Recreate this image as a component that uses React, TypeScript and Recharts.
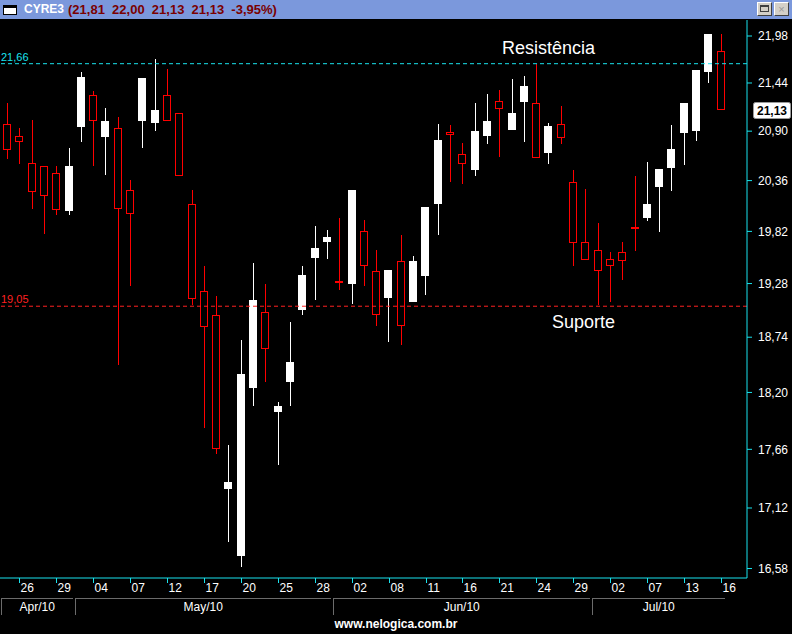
import React from "react";
import { ComposedChart, Bar, XAxis, YAxis, ReferenceLine } from "recharts";

const ticker = "CYRE3";

const dates = [
  "23/04", "26/04", "27/04", "28/04", "29/04", "30/04",
  "03/05", "04/05", "05/05", "06/05", "07/05", "10/05", "11/05", "12/05", "13/05", "14/05",
  "17/05", "18/05", "19/05", "20/05", "21/05", "24/05", "25/05", "26/05", "27/05", "28/05", "31/05",
  "01/06", "02/06", "04/06", "07/06", "08/06", "09/06", "10/06", "11/06", "14/06", "15/06",
  "16/06", "17/06", "18/06", "21/06", "22/06", "23/06", "24/06", "25/06", "28/06", "29/06", "30/06",
  "01/07", "02/07", "05/07", "06/07", "07/07", "08/07", "12/07", "13/07", "14/07", "15/07", "16/07",
];

const opens = [
  20.98, 20.85, 20.55, 20.52, 20.44, 20.03,
  20.95, 21.30, 20.84, 20.94, 20.26, 21.01, 20.99, 21.30, 21.10, 20.11,
  19.20, 18.96, 17.29, 16.69, 18.24, 18.99, 18.01, 18.30, 19.01, 19.54, 19.71,
  19.30, 19.28, 19.82, 19.41, 19.13, 19.51, 19.09, 19.36, 20.11, 20.89,
  20.65, 20.47, 20.85, 21.24, 20.91, 21.22, 21.21, 20.66, 20.98, 20.34, 19.71,
  19.63, 19.53, 19.60, 19.86, 19.96, 20.29, 20.50, 20.88, 20.90, 21.56, 21.81,
];

const highs = [
  21.21, 20.94, 21.02, 20.52, 20.52, 20.71,
  21.57, 21.35, 21.16, 21.06, 20.37, 21.50, 21.71, 21.60, 21.10, 20.26,
  19.46, 19.15, 17.70, 18.71, 19.49, 19.28, 18.11, 18.89, 19.46, 19.88, 19.83,
  19.96, 20.26, 19.94, 19.63, 19.42, 19.78, 19.56, 20.08, 20.98, 20.97,
  20.77, 21.21, 21.32, 21.36, 21.49, 21.52, 21.66, 20.99, 21.18, 20.47, 20.27,
  19.91, 19.61, 19.71, 20.41, 20.56, 20.49, 20.97, 21.21, 21.59, 22.00, 22.00,
];

const lows = [
  20.59, 20.54, 20.06, 19.79, 19.99, 19.99,
  20.78, 20.52, 20.42, 18.47, 19.26, 20.71, 20.90, 21.01, 20.41, 19.06,
  17.86, 17.62, 16.81, 16.59, 18.07, 18.30, 17.51, 18.07, 18.96, 19.11, 19.53,
  19.21, 19.07, 19.25, 18.85, 18.69, 18.66, 19.09, 19.16, 19.78, 20.35,
  20.32, 20.41, 20.76, 20.62, 20.91, 20.78, 20.60, 20.54, 20.76, 19.46, 19.52,
  19.06, 19.09, 19.32, 19.62, 19.93, 19.81, 20.25, 20.53, 20.79, 21.44, 21.13,
];

const closes = [
  20.69, 20.78, 20.24, 20.19, 20.05, 20.52,
  21.51, 21.01, 21.01, 20.06, 20.00, 21.50, 21.13, 21.01, 20.41, 19.12,
  18.84, 17.66, 17.36, 18.38, 19.11, 18.62, 18.07, 18.50, 19.37, 19.65, 19.76,
  19.30, 20.26, 19.46, 18.96, 19.42, 18.85, 19.51, 20.08, 20.80, 20.86,
  20.54, 20.90, 21.01, 21.15, 21.10, 21.41, 20.60, 20.96, 20.82, 19.70, 19.52,
  19.41, 19.46, 19.51, 19.86, 20.11, 20.49, 20.70, 21.21, 21.59, 22.00, 21.13,
];

const monthKeys = ["04", "05", "06", "07"];
const monthNames = ["Apr/10", "May/10", "Jun/10", "Jul/10"];

const yTicks = [16.58, 17.12, 17.66, 18.2, 18.74, 19.28, 19.82, 20.36, 20.9, 21.44, 21.98];
const resistance = 21.66;
const support = 19.05;

const CYAN = "#19e3ee";
const RED = "#ff0000";
const FONT = "'Liberation Sans', Arial, sans-serif";
const NARROW = "'Liberation Sans Narrow', 'Liberation Sans', Arial, sans-serif";

const W = 792;
const H = 634;
const TOP = 20;
const Y_W = 45;
const PAD_L = 1;
const PAD_R = 20;
const BAND = (W - Y_W - PAD_L - PAD_R) / dates.length;

const fmt = (v: number) => v.toFixed(2).replace(".", ",");

const data = dates.map((date, i) => ({
  date,
  up: closes[i] > opens[i],
  wick: [lows[i], highs[i]],
  body: [Math.min(opens[i], closes[i]), Math.max(opens[i], closes[i])],
}));

const last = dates.length - 1;
const change = (closes[last] / closes[last - 1] - 1) * 100;

function WickShape(props: any) {
  const { x, y, width, height, payload } = props;
  const left = Math.round(x + width / 2 - 4);
  const y1 = Math.round(y);
  const y2 = Math.round(y + height);
  return (
    <line
      x1={left + 4.5}
      x2={left + 4.5}
      y1={y1}
      y2={Math.max(y2, y1 + 1)}
      stroke={payload.up ? "#fff" : RED}
      strokeWidth={1}
    />
  );
}

function BodyShape(props: any) {
  const { x, y, width, height, payload } = props;
  const left = Math.round(x + width / 2 - 4);
  const top = Math.round(y);
  const h = Math.round(y + height) - top;
  if (h < 2) {
    return <rect x={left} y={top - 1} width={8} height={2} fill={payload.up ? "#fff" : RED} />;
  }
  if (payload.up) {
    return <rect x={left} y={top} width={8} height={h} fill="#fff" />;
  }
  return (
    <rect x={left + 0.5} y={top + 0.5} width={7} height={h - 1} fill="#000" stroke={RED} strokeWidth={1} />
  );
}

function DateTick(props: any) {
  const { x, y, index, payload } = props;
  if (index % 3 !== 1) return <g />;
  const tx = Math.round(x) + 0.5;
  return (
    <g>
      <line x1={tx} x2={tx} y1={y} y2={y + 5} stroke={CYAN} />
      <text x={tx + 1} y={y + 14} fill="#fff" fontSize={12} fontFamily={NARROW}>
        {String(payload.value).slice(0, 2)}
      </text>
    </g>
  );
}

function MonthTick(props: any) {
  const { x, y, index } = props;
  const key = dates[index].slice(3);
  if (index > 0 && dates[index - 1].slice(3) === key) return <g />;
  const count = dates.filter((d) => d.slice(3) === key).length;
  const left = Math.round(x - BAND / 2) + 0.5;
  const right = Math.round(x - BAND / 2 + count * BAND) - 2;
  const name = monthNames[monthKeys.indexOf(key)];
  return (
    <g>
      <line x1={left} x2={left} y1={y} y2={y + 17} stroke="#6b6b6b" />
      <line x1={left} x2={right} y1={y + 0.5} y2={y + 0.5} stroke="#6b6b6b" />
      <text x={(left + right) / 2} y={y + 13} fill="#fff" fontSize={12} fontFamily={NARROW} textAnchor="middle">
        {name}
      </text>
    </g>
  );
}

function levelLabel(text: string, color: string) {
  return (p: any) => (
    <text x={p.viewBox.x + 1} y={p.viewBox.y - 3} fill={color} fontSize={11} fontFamily={FONT}>
      {text}
    </text>
  );
}

function priceBox(p: any) {
  const bx = p.viewBox.x + p.viewBox.width + 6;
  const by = Math.round(p.viewBox.y) - 8;
  return (
    <g>
      <rect x={bx + 0.5} y={by + 0.5} width={37} height={16} rx={2} fill="#fff" stroke="#9a9a9a" />
      <text x={bx + 19} y={by + 13} fill="#000" fontSize={12} fontWeight="bold" fontFamily={FONT} textAnchor="middle">
        {fmt(closes[last])}
      </text>
    </g>
  );
}

const btn: React.CSSProperties = {
  position: "absolute",
  top: 2,
  width: 13,
  height: 12,
  background: "#d4d0c8",
  borderTop: "1px solid #fff",
  borderLeft: "1px solid #fff",
  borderRight: "1px solid #404040",
  borderBottom: "1px solid #404040",
};

export default function App() {
  return (
    <div style={{ position: "absolute", left: 0, top: 0, width: W, height: H, background: "#000", overflow: "hidden" }}>
      <div
        style={{
          position: "absolute",
          left: 0,
          top: 0,
          width: W,
          height: 19,
          background: "#7b98dc",
          fontFamily: FONT,
          fontWeight: "bold",
          fontSize: 13,
          lineHeight: "15px",
        }}
      >
        <div
          style={{
            position: "absolute",
            left: 3,
            top: 5,
            width: 12,
            height: 6,
            background: "#fff",
            border: "1px solid #000",
            borderTop: "3px solid #000",
          }}
        />
        <span style={{ position: "absolute", left: 24, top: 2, color: "#fff", fontSize: 12 }}>{ticker}</span>
        <span style={{ position: "absolute", left: 68, top: 2, color: "#7a0000", whiteSpace: "pre" }}>
          {`(${fmt(opens[last])}  ${fmt(highs[last])}  ${fmt(lows[last])}  ${fmt(closes[last])}  ${fmt(change)}%)`}
        </span>
        <div style={{ ...btn, left: 757 }}>
          <div style={{ position: "absolute", left: 2, top: 2, width: 7, height: 4, border: "1px solid #404040", borderTop: "2px solid #404040" }} />
        </div>
        <div style={{ ...btn, left: 774, color: "#9a9a9a", fontSize: 11, lineHeight: "12px", textAlign: "center", fontWeight: "normal" }}>
          ×
        </div>
      </div>

      <div style={{ position: "absolute", left: 0, top: TOP }}>
        <ComposedChart width={W} height={H - TOP} data={data} margin={{ top: 0, right: 0, bottom: 18, left: 0 }}>
          <XAxis
            xAxisId="date"
            dataKey="date"
            interval={0}
            padding={{ left: PAD_L, right: PAD_R }}
            height={20}
            tickSize={0}
            tickMargin={0}
            tickLine={false}
            axisLine={{ stroke: CYAN }}
            tick={DateTick}
          />
          <XAxis
            xAxisId="month"
            dataKey="date"
            interval={0}
            padding={{ left: PAD_L, right: PAD_R }}
            height={18}
            tickSize={0}
            tickMargin={0}
            tickLine={false}
            axisLine={false}
            tick={MonthTick}
          />
          <YAxis
            orientation="right"
            scale="log"
            domain={[16.497, 22.167]}
            allowDataOverflow
            ticks={yTicks}
            interval={0}
            width={Y_W}
            tickFormatter={fmt}
            tickSize={5}
            tickMargin={6}
            axisLine={{ stroke: CYAN }}
            tickLine={{ stroke: CYAN }}
            tick={{ fill: "#fff", fontSize: 12, fontFamily: FONT }}
          />
          <ReferenceLine xAxisId="date" y={resistance} stroke={CYAN} strokeDasharray="4 3" label={levelLabel(fmt(resistance), CYAN)} />
          <ReferenceLine xAxisId="date" y={support} stroke="#ff2020" strokeDasharray="4 3" label={levelLabel(fmt(support), "#ff2020")} />
          <Bar xAxisId="date" dataKey="wick" barSize={8} shape={WickShape} isAnimationActive={false} />
          <Bar xAxisId="month" dataKey="body" barSize={8} shape={BodyShape} isAnimationActive={false} />
          <ReferenceLine xAxisId="date" y={closes[last]} stroke="none" label={priceBox} />
        </ComposedChart>
      </div>

      <div style={{ position: "absolute", left: 502, top: 38, color: "#fff", fontFamily: FONT, fontSize: 18, lineHeight: "20px" }}>
        Resistência
      </div>
      <div style={{ position: "absolute", left: 552, top: 312, color: "#fff", fontFamily: FONT, fontSize: 18, lineHeight: "20px" }}>
        Suporte
      </div>
      <div
        style={{
          position: "absolute",
          left: 0,
          top: 617,
          width: W,
          textAlign: "center",
          color: "#fff",
          fontFamily: FONT,
          fontWeight: "bold",
          fontSize: 12,
          lineHeight: "15px",
        }}
      >
        www.nelogica.com.br
      </div>
    </div>
  );
}
